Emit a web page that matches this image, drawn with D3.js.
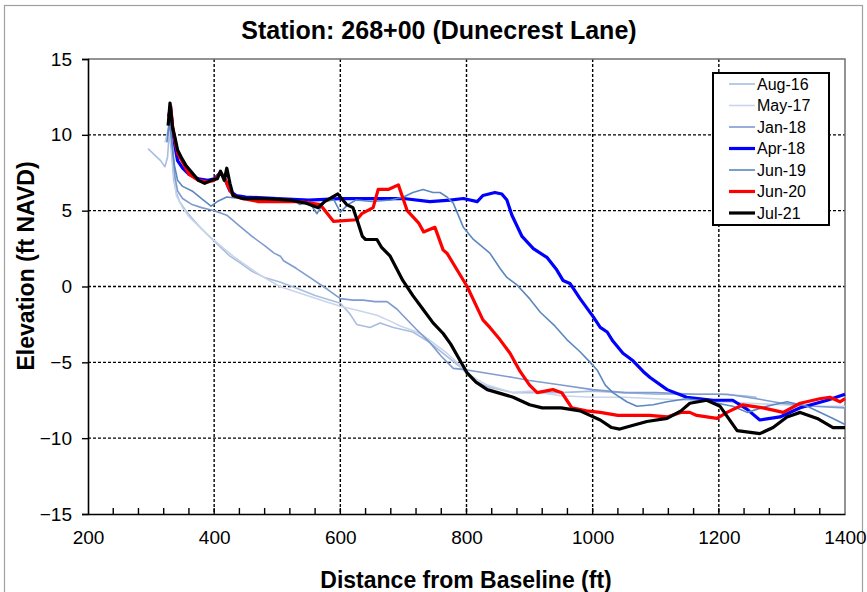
<!DOCTYPE html>
<html>
<head>
<meta charset="utf-8">
<script src="https://cdn.jsdelivr.net/npm/d3@7/dist/d3.min.js"></script>
<style>
	body { margin: 0; background: #fff; }
	#chart-area { width: 867px; height: 592px; }
	text { font-family: "Liberation Sans", Arial, sans-serif; fill: #000; }
</style>
</head>
<body>
<div id="chart-area"></div>
<script>

// survey profiles: [distance from baseline (ft), elevation (ft NAVD)]
let aug16 = [[295, 9.1], [305, 8.7], [315, 8.3], [322, 7.9], [326, 8.5], [329, 10.2], [332, 9], [336, 7], [340, 6.2], [345, 5.6],
	[355, 5.0], [365, 4.5], [380, 3.8], [395, 3.2], [410, 2.6], [425, 2.0], [440, 1.6], [460, 1.0], [480, 0.6], [504, 0.3],
	[530, -0.1], [560, -0.6], [600, -1.1], [615, -1.8], [626, -2.5], [647, -2.7], [663, -2.4], [684, -2.7], [715, -3.0],
	[742, -3.7], [769, -4.6], [790, -5.3], [811, -6.2], [833, -6.6], [874, -7.0], [900, -7.0], [950, -7.0], [1000, -6.9],
	[1050, -7.0], [1100, -7.1], [1150, -7.1], [1200, -7.1], [1240, -7.2], [1260, -7.3]];

let may17 = [[322, 9.5], [328, 10.5], [332, 9.5], [336, 7.5], [340, 6.0], [350, 5.2], [360, 4.6], [375, 4.0], [390, 3.4],
	[410, 2.7], [430, 2.0], [450, 1.4], [475, 0.7], [504, 0.0], [540, -0.5], [570, -0.9], [600, -1.3], [630, -1.6],
	[658, -1.9], [680, -2.3], [695, -2.6], [715, -2.9], [731, -3.2], [750, -3.8], [769, -4.4], [785, -5.0], [801, -5.7],
	[815, -6.1], [833, -6.5], [874, -7.0], [900, -6.9], [950, -7.2], [1000, -7.3], [1050, -7.3], [1100, -7.4],
	[1150, -7.5], [1200, -7.6], [1250, -7.7], [1300, -7.8], [1350, -7.9], [1400, -7.9]];

let jan18 = [[326, 10], [330, 11.2], [334, 9], [338, 7.2], [342, 6.3], [350, 5.8], [365, 5.4], [380, 5.2], [400, 5.0],
	[420, 4.7], [440, 4.0], [460, 3.3], [480, 2.7], [495, 2.2], [505, 2.0], [510, 1.7], [530, 1.2], [555, 0.5],
	[580, -0.2], [600, -0.8], [620, -0.9], [636, -0.9], [655, -1.0], [674, -1.0], [690, -1.5], [699, -1.9], [720, -2.8],
	[742, -3.7], [760, -4.6], [779, -5.4], [801, -5.5], [830, -5.7], [874, -6.0], [900, -6.2], [950, -6.5], [1000, -6.8],
	[1050, -7.0], [1100, -7.0], [1165, -7.1], [1213, -7.1], [1260, -7.4], [1300, -7.7], [1350, -7.9], [1400, -8.0]];

let apr18 = [[328, 11.2], [331, 11.8], [334, 10.5], [338, 9.2], [342, 8.3], [350, 7.8], [360, 7.4], [375, 7.1], [390, 7.0],
	[400, 7.1], [410, 7.5], [416, 7.2], [425, 6.3], [435, 6.0], [450, 5.9], [500, 5.8], [550, 5.7], [600, 5.8], [650, 5.8],
	[700, 5.8], [742, 5.6], [774, 5.7], [795, 5.8], [817, 5.6], [826, 6.0], [845, 6.2], [856, 6.1], [864, 5.7], [872, 4.7],
	[888, 3.3], [906, 2.5], [928, 1.9], [943, 1.1], [953, 0.4], [964, 0.2], [980, -0.8], [1001, -2.0], [1012, -2.7],
	[1023, -3.0], [1032, -3.6], [1048, -4.4], [1064, -4.9], [1080, -5.6], [1091, -6.0], [1118, -6.8], [1149, -7.3],
	[1170, -7.4], [1191, -7.5], [1222, -7.5], [1245, -8.1], [1265, -8.8], [1297, -8.6], [1329, -8.0], [1372, -7.5],
	[1400, -7.1]];

let jun19 = [[325, 9.5], [329, 10.8], [333, 9.5], [337, 8], [342, 7], [350, 6.6], [365, 6.3], [380, 5.8], [395, 5.3],
	[405, 5.6], [420, 5.9], [440, 5.8], [470, 5.7], [500, 5.8], [525, 5.7], [536, 5.4], [550, 5.6], [563, 4.8], [575, 5.6],
	[590, 5.7], [600, 4.9], [612, 5.4], [625, 5.7], [650, 5.6], [680, 5.7], [700, 5.9], [715, 6.2], [731, 6.4], [747, 6.2],
	[758, 6.2], [769, 5.9], [779, 5.5], [795, 3.9], [811, 3.1], [837, 2.2], [853, 1.2], [864, 0.6], [880, 0.1],
	[900, -0.8], [917, -1.7], [940, -2.6], [959, -3.5], [980, -4.3], [996, -5.0], [1007, -5.5], [1020, -6.5],
	[1032, -7.0], [1054, -7.6], [1070, -7.9], [1096, -7.8], [1118, -7.6], [1149, -7.4], [1186, -7.6], [1222, -7.9],
	[1245, -8.3], [1276, -7.9], [1308, -7.6], [1340, -7.9], [1381, -8.7], [1400, -9.1]];

let jun20 = [[328, 11.2], [331, 11.9], [334, 10.6], [338, 9.6], [342, 8.8], [350, 8.2], [360, 7.4], [375, 7.0], [390, 6.9],
	[400, 7.0], [410, 7.5], [416, 7.2], [422, 6.6], [430, 6.0], [445, 5.8], [470, 5.6], [500, 5.6], [536, 5.6], [568, 5.4],
	[589, 4.3], [626, 4.4], [634, 4.8], [652, 5.2], [660, 6.4], [676, 6.4], [692, 6.7], [706, 5.0], [724, 4.2], [732, 3.6],
	[750, 3.9], [763, 2.4], [769, 2.2], [801, 0.0], [826, -2.2], [837, -2.7], [853, -3.5], [869, -4.4], [885, -5.6],
	[900, -6.5], [912, -7.0], [937, -6.8], [951, -7.0], [959, -7.5], [967, -8.0], [990, -8.2], [1012, -8.3], [1040, -8.5],
	[1064, -8.5], [1090, -8.5], [1118, -8.6], [1140, -8.3], [1154, -8.3], [1165, -8.5], [1197, -8.7], [1213, -8.3],
	[1238, -7.8], [1270, -8.0], [1302, -8.3], [1329, -7.7], [1360, -7.4], [1376, -7.3], [1392, -7.6], [1400, -7.4]];

let jul21 = [[327, 10.6], [330, 12.1], [334, 10.5], [338, 9.8], [342, 9.0], [348, 8.5], [355, 8.0], [365, 7.5], [375, 7.0],
	[385, 6.8], [395, 7.0], [405, 7.1], [410, 7.6], [416, 7.0], [420, 7.8], [425, 6.8], [430, 6.0], [445, 5.8], [480, 5.8],
	[520, 5.7], [545, 5.5], [565, 5.2], [575, 5.6], [596, 6.1], [610, 5.4], [620, 5.2], [628, 4.2], [635, 3.3], [640, 3.1],
	[658, 3.1], [665, 2.6], [679, 2.0], [699, 0.4], [715, -0.6], [731, -1.5], [747, -2.4], [763, -3.1], [775, -3.8],
	[790, -4.9], [801, -5.7], [815, -6.3], [833, -6.8], [874, -7.3], [900, -7.8], [920, -8.0], [950, -8.0], [980, -8.2],
	[1012, -8.8], [1030, -9.3], [1043, -9.4], [1060, -9.2], [1086, -8.9], [1118, -8.7], [1140, -8.2], [1154, -7.7],
	[1181, -7.5], [1202, -7.9], [1229, -9.5], [1265, -9.7], [1286, -9.3], [1308, -8.6], [1329, -8.3], [1356, -8.7],
	[1381, -9.3], [1400, -9.3]];

let seriesNames = ['Aug-16', 'May-17', 'Jan-18', 'Apr-18', 'Jun-19', 'Jun-20', 'Jul-21'];
let seriesValues = [aug16, may17, jan18, apr18, jun19, jun20, jul21];

let xTicks = [200, 400, 600, 800, 1000, 1200, 1400];
let yTicks = [-15, -10, -5, 0, 5, 10, 15];


class ProfileChart {

	constructor(_parentElement, _names, _values) {
		this.parentElement = _parentElement;
		this.names = _names;
		this.values = _values;

		// line styles per survey
		this.colors = ['#a9bde0', '#c9d5ea', '#7f9bd0', '#0000ff', '#5b88c0', '#ff0000', '#000000'];
		this.widths = [1.6, 1.6, 1.6, 3.2, 1.6, 3.2, 3.2];

		this.initVis();
	}

	initVis() {
		let vis = this;

		vis.margin = {top: 59, right: 22, bottom: 78, left: 88};
		vis.width = 867 - vis.margin.left - vis.margin.right;
		vis.height = 592 - vis.margin.top - vis.margin.bottom;

		vis.root = d3.select("#" + vis.parentElement).append("svg")
			.attr("width", 867)
			.attr("height", 592);

		// outer frame
		vis.root.append("rect")
			.attr("x", 4.5).attr("y", 5.5)
			.attr("width", 858).attr("height", 600)
			.attr("fill", "none")
			.attr("stroke", "#a0a0a0")
			.attr("stroke-width", 1.2);

		vis.svg = vis.root.append("g")
			.attr("transform", `translate(${vis.margin.left}, ${vis.margin.top})`);

		vis.x = d3.scaleLinear().domain([200, 1400]).range([0, vis.width]);
		vis.y = d3.scaleLinear().domain([-15, 15]).range([vis.height, 0]);

		// grid
		vis.svg.append("g").selectAll("line")
			.data(xTicks.slice(1, -1))
			.enter().append("line")
			.attr("x1", d => vis.x(d)).attr("x2", d => vis.x(d))
			.attr("y1", 0).attr("y2", vis.height)
			.attr("stroke", "#000").attr("stroke-width", 1.4)
			.attr("stroke-dasharray", "3,2");

		vis.svg.append("g").selectAll("line")
			.data(yTicks.slice(1, -1))
			.enter().append("line")
			.attr("y1", d => vis.y(d)).attr("y2", d => vis.y(d))
			.attr("x1", 0).attr("x2", vis.width)
			.attr("stroke", "#000").attr("stroke-width", 1.4)
			.attr("stroke-dasharray", "3,2");

		// top + right frame
		vis.svg.append("path")
			.attr("d", `M0,0H${vis.width}V${vis.height}`)
			.attr("fill", "none")
			.attr("stroke", "#707070")
			.attr("stroke-width", 1.5);

		// minor x ticks (inside)
		vis.svg.append("g").selectAll("line")
			.data(d3.range(240, 1400, 40))
			.enter().append("line")
			.attr("x1", d => vis.x(d)).attr("x2", d => vis.x(d))
			.attr("y1", vis.height).attr("y2", vis.height - 6)
			.attr("stroke", "#000").attr("stroke-width", 1.4);

		// axes
		vis.xAxis = d3.axisBottom(vis.x).tickValues(xTicks).tickFormat(d3.format("d")).tickSize(0).tickPadding(17);
		vis.yAxis = d3.axisLeft(vis.y).tickValues(yTicks).tickSize(6).tickPadding(10);

		vis.svg.append("g")
			.attr("class", "x-axis axis")
			.attr("transform", `translate(0, ${vis.height})`)
			.call(vis.xAxis);

		vis.svg.append("g")
			.attr("class", "y-axis axis")
			.call(vis.yAxis);

		vis.svg.selectAll(".axis path.domain").attr("stroke", "#000").attr("stroke-width", 1.6);
		vis.svg.selectAll(".axis line").attr("stroke", "#000").attr("stroke-width", 1.4);
		vis.svg.selectAll(".axis text")
			.attr("font-size", 19)
			.attr("font-family", "Liberation Sans, Arial, sans-serif");

		// titles
		vis.root.append("text")
			.attr("x", 439).attr("y", 39)
			.attr("text-anchor", "middle")
			.attr("font-size", 25).attr("font-weight", "bold")
			.text("Station: 268+00 (Dunecrest Lane)");

		vis.root.append("text")
			.attr("x", 466).attr("y", 588)
			.attr("text-anchor", "middle")
			.attr("font-size", 23).attr("font-weight", "bold")
			.text("Distance from Baseline (ft)");

		vis.root.append("text")
			.attr("transform", "translate(34, 266) rotate(-90)")
			.attr("text-anchor", "middle")
			.attr("font-size", 23).attr("font-weight", "bold")
			.text("Elevation (ft NAVD)");

		vis.line = d3.line()
			.x(d => vis.x(d[0]))
			.y(d => vis.y(d[1]));

		vis.wrangleData();
	}

	wrangleData() {
		let vis = this;
		vis.displayData = vis.names.map((name, i) => ({
			name: name,
			values: vis.values[i],
			color: vis.colors[i],
			width: vis.widths[i]
		}));
		vis.updateVis();
	}

	updateVis() {
		let vis = this;

		vis.svg.append("g").selectAll("path")
			.data(vis.displayData)
			.enter().append("path")
			.attr("fill", "none")
			.attr("stroke", d => d.color)
			.attr("stroke-width", d => d.width)
			.attr("stroke-linejoin", "round")
			.attr("d", d => vis.line(d.values));

		// legend
		vis.legend = vis.root.append("g")
			.attr("transform", "translate(713, 73)");

		vis.legend.append("rect")
			.attr("width", 116).attr("height", 152)
			.attr("fill", "#fff")
			.attr("stroke", "#000").attr("stroke-width", 2);

		let rows = vis.legend.selectAll(".legend-row")
			.data(vis.displayData)
			.enter().append("g")
			.attr("class", "legend-row")
			.attr("transform", (d, i) => `translate(0, ${11 + i * 21.5})`);

		rows.append("line")
			.attr("x1", 16).attr("x2", 42)
			.attr("stroke", d => d.color)
			.attr("stroke-width", d => d.width);

		rows.append("text")
			.attr("x", 44).attr("y", 5.5)
			.attr("font-size", 16)
			.text(d => d.name);
	}
}

new ProfileChart("chart-area", seriesNames, seriesValues);

</script>
</body>
</html>
